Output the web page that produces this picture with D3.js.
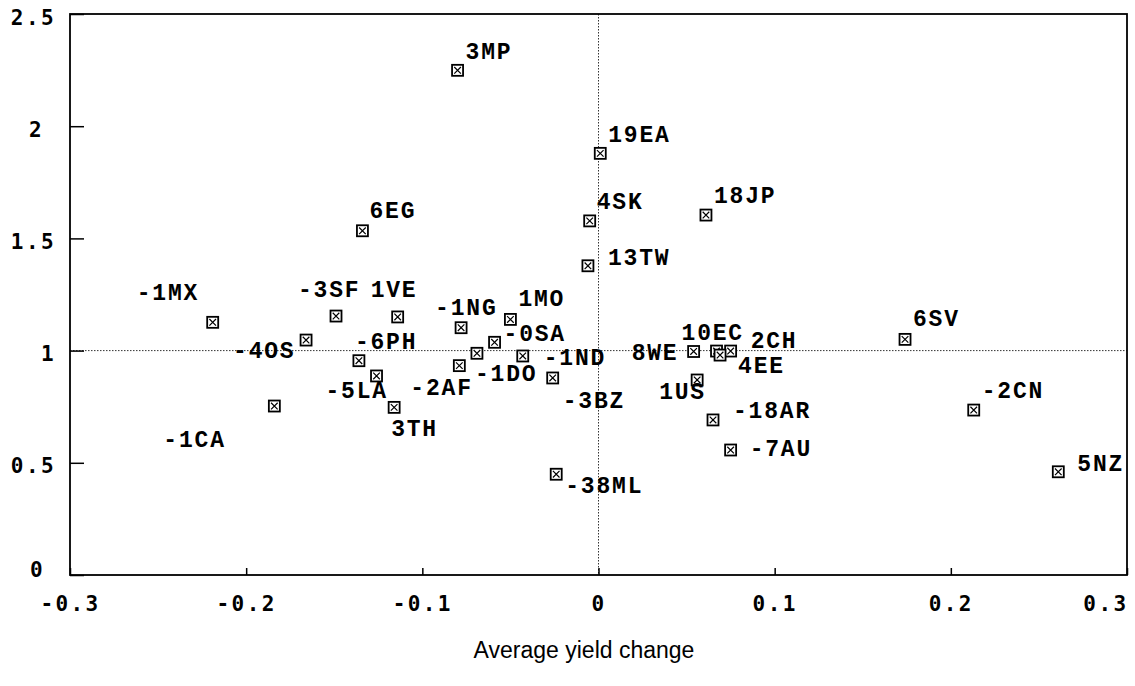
<!DOCTYPE html>
<html>
<head>
<meta charset="utf-8">
<script src="https://cdn.jsdelivr.net/npm/d3@7"></script>
<style>
  html, body { margin: 0; padding: 0; background: #fff; }
  svg { display: block; }
</style>
</head>
<body>
<svg id="chart" width="1135" height="686"></svg>
<script>
// ---- data ----
const labels = ["3MP","19EA","4SK","18JP","13TW","6EG","-1MX","-3SF","1VE","-4OS","-6PH","-5LA","3TH","-1CA",
  "-1NG","1MO","-0SA","-1DO","-2AF","-1ND","-3BZ","-38ML","8WE","10EC","2CH","4EE","1US","-18AR","-7AU","6SV","-2CN","5NZ"];
const xValues = [-0.080, 0.001, -0.005, 0.061, -0.006, -0.134, -0.219, -0.149, -0.114, -0.166, -0.136, -0.126, -0.116, -0.184,
  -0.078, -0.050, -0.059, -0.069, -0.079, -0.043, -0.026, -0.024, 0.054, 0.067, 0.075, 0.069, 0.056, 0.065, 0.075, 0.174, 0.213, 0.261];
const yValues = [2.249, 1.879, 1.578, 1.604, 1.378, 1.534, 1.126, 1.154, 1.150, 1.047, 0.955, 0.887, 0.747, 0.753,
  1.102, 1.139, 1.037, 0.988, 0.933, 0.976, 0.878, 0.449, 0.996, 0.998, 0.998, 0.980, 0.869, 0.691, 0.557, 1.050, 0.735, 0.460];
const xTickValues = [-0.3, -0.2, -0.1, 0, 0.1, 0.2, 0.3];
const xTickLabels = ["-0.3", "-0.2", "-0.1", "0", "0.1", "0.2", "0.3"];
const yTickValues = [0, 0.5, 1, 1.5, 2, 2.5];
const yTickLabels = ["0", "0.5", "1", "1.5", "2", "2.5"];
const xTitle = "Average yield change";
const refX = 0, refY = 1;

// ---- layout (label offsets from marker: left edge, baseline) ----
const labelOffset = {
  "3MP":[8,-11], "19EA":[8,-11], "4SK":[7,-12], "18JP":[8,-12], "13TW":[20,-1], "6EG":[7,-13],
  "-1MX":[-76,-22], "-3SF":[-38,-19], "1VE":[-27,-20], "-4OS":[-73,18], "-6PH":[-4,-12], "-5LA":[-51,22],
  "3TH":[-3,29], "-1CA":[-111,41], "-1NG":[-26,-13], "1MO":[8,-13], "-0SA":[9,-1], "-1DO":[-2,28],
  "-2AF":[-49,29], "-1ND":[21,9], "-3BZ":[10,30], "-38ML":[9,19], "8WE":[-62,9], "10EC":[-35,-11],
  "2CH":[20,-3], "4EE":[18,18], "1US":[-38,19], "-18AR":[20,-2], "-7AU":[19,6], "6SV":[8,-13],
  "-2CN":[8,-12], "5NZ":[19,-1]
};

const L = 70, R = 1127, T = 14, B = 575;
const svg = d3.select("#chart");
svg.append("rect").attr("width", 1135).attr("height", 686).attr("fill", "#fff");

const x = d3.scaleLinear().domain([-0.3, 0.3]).range([L, R]);
const y = d3.scaleLinear().domain([0, 2.5]).range([B, T]);

const tickFont = "'DejaVu Sans Mono', monospace";

// reference dotted lines
svg.append("line").attr("x1", x(refX)).attr("x2", x(refX)).attr("y1", T).attr("y2", B)
  .attr("stroke", "#333").attr("stroke-width", 1).attr("stroke-dasharray", "1.5,1.5");
svg.append("line").attr("x1", L).attr("x2", R).attr("y1", y(refY)).attr("y2", y(refY))
  .attr("stroke", "#333").attr("stroke-width", 1).attr("stroke-dasharray", "1.5,1.5");

// x axis
const xAxis = d3.axisBottom(x).tickValues(xTickValues)
  .tickFormat((d, i) => xTickLabels[i]).tickSizeInner(-7).tickSizeOuter(0).tickPadding(21);
const gx = svg.append("g").attr("transform", `translate(0,${B})`).call(xAxis);
gx.select(".domain").remove();
gx.selectAll(".tick line").attr("stroke", "#000").attr("stroke-width", 1.5);
gx.selectAll(".tick text").attr("fill", "#000").attr("font-family", tickFont)
  .attr("font-size", 21).attr("font-weight", "bold").attr("letter-spacing", "2.4px")
  .each(function(d, i) {
    if (i === xTickValues.length - 1) {
      d3.select(this).attr("text-anchor", "end").attr("x", 1);
    }
  });

// y axis
const yAxis = d3.axisLeft(y).tickValues(yTickValues)
  .tickFormat((d, i) => yTickLabels[i]).tickSizeInner(-14).tickSizeOuter(0).tickPadding(14);
const gy = svg.append("g").attr("transform", `translate(${L},0)`).call(yAxis);
gy.select(".domain").remove();
gy.selectAll(".tick line").attr("stroke", "#000").attr("stroke-width", 1.5);
gy.selectAll(".tick text").attr("fill", "#000").attr("font-family", tickFont)
  .attr("font-size", 21).attr("font-weight", "bold").attr("letter-spacing", "2.4px")
  .attr("dy", "0.48em")
  .each(function(d, i) {
    const t = yTickLabels[i];
    if (t === "0") d3.select(this).attr("x", -25).attr("dy", "0.05em");
    else if (t === "2") d3.select(this).attr("x", -26);
  });

// frame
svg.append("rect").attr("x", L).attr("y", T).attr("width", R - L).attr("height", B - T)
  .attr("fill", "none").attr("stroke", "#000").attr("stroke-width", 1.8);

// points
const pts = labels.map((l, i) => ({ label: l, x: xValues[i], y: yValues[i] }));
const s = 5.5;
const gp = svg.append("g").selectAll("g").data(pts).join("g")
  .attr("transform", d => `translate(${x(d.x)},${y(d.y)})`);
gp.append("rect").attr("x", -s).attr("y", -s).attr("width", 2 * s).attr("height", 2 * s)
  .attr("fill", "#fff").attr("stroke", "#000").attr("stroke-width", 1.8);
gp.append("path").attr("d", `M${-s + 2.2},${-s + 2.2}L${s - 2.2},${s - 2.2}M${s - 2.2},${-s + 2.2}L${-s + 2.2},${s - 2.2}`)
  .attr("stroke", "#000").attr("stroke-width", 1.2);

// point labels
svg.append("g").selectAll("text").data(pts).join("text")
  .attr("x", d => x(d.x) + labelOffset[d.label][0])
  .attr("y", d => y(d.y) + labelOffset[d.label][1])
  .attr("font-family", "'Liberation Mono', 'Courier New', monospace")
  .attr("font-weight", "bold").attr("font-size", 23).attr("letter-spacing", "1.8px")
  .attr("fill", "#000")
  .text(d => d.label);

// x title
svg.append("text").attr("x", 584).attr("y", 658).attr("text-anchor", "middle")
  .attr("font-family", "'Liberation Sans', Arial, sans-serif").attr("font-size", 23)
  .attr("fill", "#000").text(xTitle);
</script>
</body>
</html>
